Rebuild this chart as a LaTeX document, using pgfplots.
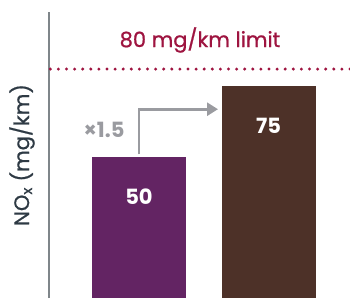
\documentclass[border=0pt]{standalone}
\usepackage{fontspec}
\setmainfont{Poppins}
\newfontfamily\medfont{Poppins}[FakeBold=0.8]
\usepackage{pgfplots}
\pgfplotsset{compat=1.18}
\usetikzlibrary{arrows.meta}
\definecolor{barpurple}{HTML}{632463}
\definecolor{barbrown}{HTML}{4D3128}
\definecolor{limitred}{HTML}{9E1440}
\definecolor{axisgray}{HTML}{7F868A}
\definecolor{arrowgray}{HTML}{9A9BA0}
\definecolor{labeldark}{HTML}{2E3A44}
\begin{document}
\begin{tikzpicture}
\begin{axis}[
  at={(0,0)}, anchor=south west,
  scale only axis, width=301pt, height=286pt,
  xmin=0, xmax=301, ymin=0, ymax=101.2,
  axis x line=none, axis y line*=left,
  y axis line style={axisgray, line width=1.7pt, -},
  ytick=\empty,
  clip=false,
  ylabel={NO\textsubscript{x} (mg/km)},
  ylabel style={at={(axis description cs:-0.0897,0.5)}, anchor=center, font=\medfont\fontsize{21}{24}\selectfont, text=labeldark},
]
\addplot[ybar, bar shift=0pt, bar width=94, fill=barpurple, draw=none] coordinates {(90,50)};
\addplot[ybar, bar shift=0pt, bar width=94, fill=barbrown, draw=none] coordinates {(219.5,75)};
\addplot[limitred, line width=3.3pt, line cap=round, dash pattern=on 0pt off 8.1pt] coordinates {(1.3,81)(301,81)};
\addplot[arrowgray, line width=2.7pt, -{Triangle[length=11pt,width=13pt]}] coordinates {(90,50.8)(90,66.8)(169,66.8)};
\node[text=limitred, font=\medfont\fontsize{21}{24}\selectfont] at (axis cs:151,91.3) {80 mg/km limit};
\node[text=white, font=\bfseries\fontsize{21}{24}\selectfont] at (axis cs:90,36) {50};
\node[text=white, font=\bfseries\fontsize{21}{24}\selectfont] at (axis cs:219.5,61) {75};
\node[text=arrowgray, font=\bfseries\fontsize{21}{24}\selectfont] at (axis cs:55,59.4) {×1.5};
\end{axis}
\pgfresetboundingbox
\path (-49pt,0) rectangle (301pt,298pt);
\end{tikzpicture}
\end{document}
